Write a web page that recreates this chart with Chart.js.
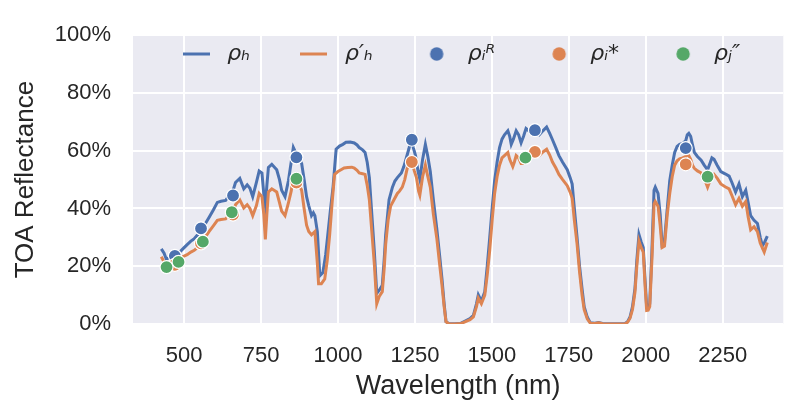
<!DOCTYPE html>
<html>
<head>
<meta charset="utf-8">
<script src="https://cdn.jsdelivr.net/npm/chart.js@4.4.0/dist/chart.umd.min.js"></script>
<style>
html,body{margin:0;padding:0;background:#ffffff;}
#wrap{width:791px;height:403px;position:relative;}
</style>
</head>
<body>
<div id="wrap"><canvas id="c" width="791" height="403"></canvas></div>
<script>
// ---- data (reflectance in %) ----
const wlH = [426,435,442,452,465,475,485,496,510,522,533,544,555,565,581,595,608,620,635,650,660,667,681,694,705,714,723,735,744,753,759,764,769,774,785,801,810,817,828,839,848,855,862,870,882,890,898,905,914,920,925,933,941,951,960,967,975,984,994,1005,1016,1026,1040,1053,1062,1069,1080,1088,1095,1102,1110,1118,1126,1134,1144,1150,1155,1166,1177,1185,1193,1206,1214,1220,1230,1238,1245,1252,1260,1266,1275,1284,1292,1300,1310,1321,1330,1338,1345,1351,1360,1380,1400,1407,1418,1429,1440,1450,1456,1466,1477,1485,1493,1501,1509,1517,1525,1533,1541,1552,1558,1563,1570,1579,1587,1595,1603,1611,1619,1627,1635,1645,1654,1665,1678,1688,1697,1708,1718,1730,1745,1755,1761,1768,1777,1785,1793,1800,1810,1820,1835,1847,1860,1880,1900,1920,1933,1941,1949,1957,1965,1971,1978,1985,1992,1998,2003,2008,2013,2020,2027,2031,2040,2047,2053,2061,2070,2078,2086,2094,2102,2110,2120,2130,2135,2140,2146,2152,2158,2168,2180,2190,2201,2210,2215,2222,2232,2244,2258,2271,2280,2292,2303,2314,2325,2333,2341,2352,2363,2372,2379,2387,2395];
const rhoH = [26.0,24.5,22.5,23.0,23.5,23.8,24.8,26.0,27.5,28.7,29.5,30.9,32.5,34.0,36.9,39.5,42.1,42.5,42.8,45.0,46.5,49.0,50.4,46.8,48.2,47.0,44.1,49.0,53.0,52.3,45.0,41.0,48.0,54.2,55.3,53.4,50.0,46.3,44.1,49.6,56.0,61.1,59.5,58.0,55.6,50.0,44.1,41.0,37.5,38.5,37.5,32.0,16.7,17.8,24.0,30.9,39.0,47.4,60.5,61.6,62.2,62.9,63.0,62.7,62.0,61.1,60.3,59.4,56.0,50.7,38.0,25.4,10.6,11.7,13.4,22.0,30.9,43.0,47.4,49.5,50.7,52.3,54.5,56.7,60.5,64.0,61.0,58.3,53.0,50.1,57.0,62.2,58.0,52.8,43.0,33.1,24.0,15.6,7.0,0.8,0.2,0.1,0.3,0.7,1.3,1.9,3.0,7.0,10.1,7.9,11.2,20.0,29.8,40.0,49.6,56.0,61.1,64.0,65.5,66.9,65.0,62.2,64.0,66.9,65.5,62.7,65.0,67.7,67.0,66.5,66.5,66.0,65.5,66.8,68.2,66.0,63.8,61.0,58.3,56.0,53.4,50.5,48.5,40.0,29.8,20.0,12.3,6.0,2.4,0.4,0.3,0.5,0.2,0.1,0.1,0.1,0.2,0.8,2.4,6.0,12.3,22.0,31.0,28.5,26.5,15.0,6.0,6.0,7.0,25.0,46.3,47.4,45.2,38.0,27.6,28.7,40.0,49.6,55.0,59.4,61.5,62.2,62.5,63.5,65.5,66.0,65.0,62.0,59.4,58.0,56.7,55.0,53.4,56.0,57.5,57.0,55.0,52.8,52.0,51.2,49.0,45.7,48.5,44.1,46.3,42.0,37.5,35.9,34.8,30.0,27.1,28.5,30.4];
const wlHp = [426,435,443,453,465,475,485,496,510,522,533,544,555,565,581,595,608,620,635,650,660,667,681,694,705,714,723,735,744,753,759,764,769,774,785,801,810,817,828,839,848,855,862,870,882,890,898,905,914,920,925,933,937,946,957,965,973,981,989,1000,1010,1020,1032,1045,1053,1062,1069,1080,1088,1095,1102,1110,1118,1126,1134,1144,1150,1155,1163,1171,1182,1193,1200,1209,1217,1225,1233,1241,1248,1255,1262,1266,1275,1284,1292,1300,1310,1321,1330,1338,1345,1351,1360,1380,1400,1407,1418,1429,1440,1450,1456,1466,1477,1485,1493,1501,1509,1517,1525,1533,1541,1552,1558,1568,1573,1579,1587,1595,1600,1605,1611,1619,1627,1635,1645,1654,1665,1678,1688,1697,1708,1718,1730,1745,1755,1761,1768,1777,1785,1793,1800,1810,1820,1835,1847,1860,1880,1900,1920,1933,1941,1949,1957,1965,1971,1978,1985,1992,1998,2003,2008,2013,2020,2027,2031,2040,2047,2053,2061,2070,2078,2086,2094,2102,2110,2120,2130,2137,2146,2152,2158,2168,2180,2190,2201,2210,2222,2232,2244,2258,2271,2280,2292,2303,2314,2325,2333,2341,2352,2363,2372,2385,2395];
const rhoHp = [23.3,21.5,20.0,20.0,20.5,21.0,22.0,23.3,24.0,24.9,25.5,26.5,27.8,29.5,32.0,34.0,35.9,36.2,36.4,38.0,39.0,41.3,43.0,40.2,41.3,40.0,37.5,41.0,45.2,44.1,38.0,29.3,38.0,45.7,46.8,45.7,42.0,39.1,37.5,41.9,46.0,50.7,50.0,49.0,46.3,40.0,34.2,32.0,30.9,31.5,32.0,21.0,13.9,13.9,15.6,22.0,30.9,42.0,51.8,52.8,53.4,54.0,54.2,54.3,54.0,53.2,52.3,52.0,51.8,48.0,43.0,32.0,21.0,7.0,9.5,11.2,19.0,27.6,36.0,40.8,43.0,45.2,46.0,47.4,50.0,53.9,55.5,56.0,53.0,50.7,46.0,44.6,51.0,55.0,51.0,47.4,38.0,29.8,21.0,13.4,6.0,0.8,0.1,0.0,0.2,0.5,1.0,1.5,2.5,6.0,9.0,7.0,10.0,17.0,25.4,36.0,45.2,51.0,55.0,57.5,58.3,59.4,57.0,54.5,56.0,58.3,57.5,55.6,55.6,57.0,58.5,59.0,59.5,59.0,58.5,58.3,59.5,60.5,58.5,56.1,54.0,51.8,50.0,47.9,45.5,43.5,36.0,27.6,18.0,10.1,5.0,1.8,0.3,0.2,0.4,0.1,0.0,0.0,0.0,0.1,0.6,2.0,5.0,11.0,20.0,28.7,26.5,24.9,13.0,4.7,4.8,6.0,22.0,41.5,42.4,40.8,34.0,26.5,27.0,38.0,45.2,51.0,55.0,56.5,57.2,57.5,58.0,58.9,57.0,55.0,53.9,53.0,52.3,50.5,47.4,50.0,51.8,50.5,48.5,47.5,46.8,44.5,41.3,43.5,40.8,42.4,37.0,32.6,33.7,32.0,28.0,24.9,28.2];
const wlBands = [470,555,659,865,1240,1640,2130];
const rhoR = [23.6,33.1,44.5,57.7,63.8,67.1,60.9];
const rhoStar = [20.5,27.9,37.9,49.0,56.1,59.6,55.3];
const wlBandsJ = [443,482,561,655,865,1609,2201];
const rhoJ = [19.7,21.5,28.5,38.7,50.3,57.6,51.0];
const xTicks = [500,750,1000,1250,1500,1750,2000,2250];
const yTicks = [0,20,40,60,80,100];
const legendLabels = ['ρₕ','ρ′ₕ','ρᵢᴿ','ρᵢ*','ρⱼ″'];

// ---- styling ----
const C_BLUE = '#4C72B0', C_ORANGE = '#DD8452', C_GREEN = '#55A868';
const TXT = '#262626', BG = '#EAEAF2';
const pts = (xs, ys) => xs.map((x, i) => ({x: x, y: ys[i]}));

// legend marker images (line sample / dot)
function lineMarker(color) {
  const c = document.createElement('canvas'); c.width = 27; c.height = 4;
  const g = c.getContext('2d'); g.strokeStyle = color; g.lineWidth = 3; g.lineCap = 'butt';
  g.beginPath(); g.moveTo(0, 2); g.lineTo(27, 2); g.stroke(); return c;
}
function dotMarker(color) {
  const c = document.createElement('canvas'); c.width = 16; c.height = 16;
  const g = c.getContext('2d'); g.fillStyle = color;
  g.beginPath(); g.arc(8, 8, 6.7, 0, Math.PI * 2); g.fill(); return c;
}
const markerImgs = [lineMarker(C_BLUE), lineMarker(C_ORANGE), dotMarker(C_BLUE), dotMarker(C_ORANGE), dotMarker(C_GREEN)];

const bgPlugin = {
  id: 'axesBg',
  beforeDraw(chart) {
    const a = chart.chartArea, ctx = chart.ctx;
    ctx.save(); ctx.fillStyle = BG;
    ctx.fillRect(a.left, a.top, a.right - a.left, a.bottom - a.top);
    ctx.restore();
  }
};
const legendInside = {
  id: 'legendInside',
  beforeInit(chart) {
    const lg = chart.legend;
    if (!lg) return;
    const fit = lg.fit;
    lg.fit = function () { fit.call(this); this.height = 0; };
  },
  afterLayout(chart) {
    const lg = chart.legend, a = chart.chartArea;
    if (!lg) return;
    const cx = (a.left + a.right) / 2;
    lg.left = cx - 400; lg.right = cx + 400; lg.width = 800;
    lg.top = -1; lg.bottom = 200; lg.height = 201;
  }
};

const lineDs = (label, data, color, order) => ({
  type: 'scatter', label: label, data: data, showLine: true,
  borderColor: color, backgroundColor: color, borderWidth: 3,
  pointRadius: 0, pointHoverRadius: 0,
  tension: 0, order: order
});
const dotDs = (label, data, color, order) => ({
  type: 'scatter', label: label, data: data, showLine: false,
  backgroundColor: color, borderColor: '#ffffff', borderWidth: 1.2,
  pointRadius: 6.5, pointHoverRadius: 6.5, pointStyle: 'circle', order: order
});

new Chart(document.getElementById('c'), {
  type: 'scatter',
  data: {
    datasets: [
      lineDs(legendLabels[0], pts(wlH, rhoH), C_BLUE, 5),
      lineDs(legendLabels[1], pts(wlHp, rhoHp), C_ORANGE, 4),
      dotDs(legendLabels[2], pts(wlBands, rhoR), C_BLUE, 3),
      dotDs(legendLabels[3], pts(wlBands, rhoStar), C_ORANGE, 2),
      dotDs(legendLabels[4], pts(wlBandsJ, rhoJ), C_GREEN, 1)
    ]
  },
  options: {
    responsive: false, animation: false, devicePixelRatio: 1, events: [],
    layout: {padding: {top: 20, right: 1, bottom: 0, left: 0}},
    plugins: {
      tooltip: {enabled: false},
      legend: {
        display: true, position: 'top', align: 'center',
        labels: {
          usePointStyle: true, pointStyleWidth: 40, boxHeight: 10, padding: 44,
          color: TXT, font: {family: 'DejaVu Sans', size: 22, style: 'italic'},
          sort: (a, b) => a.datasetIndex - b.datasetIndex,
          generateLabels: (chart) => {
            const items = Chart.defaults.plugins.legend.labels.generateLabels(chart);
            items.forEach(it => { it.pointStyle = markerImgs[it.datasetIndex]; });
            return items;
          }
        }
      }
    },
    scales: {
      x: {
        type: 'linear', position: 'bottom', min: 334, max: 2447,
        afterBuildTicks: (s) => { s.ticks = xTicks.map(v => ({value: v})); },
        afterFit: (s) => { s.height = 79; },
        grid: {color: '#ffffff', lineWidth: 2, drawTicks: false},
        border: {display: false},
        ticks: {color: TXT, padding: 19, maxRotation: 0, autoSkip: false,
                font: {family: 'Liberation Sans', size: 22}, callback: (v) => String(v)},
        title: {display: true, text: 'Wavelength (nm)', color: TXT,
                font: {family: 'Liberation Sans', size: 27}, padding: {top: 0, bottom: 0}}
      },
      y: {
        type: 'linear', position: 'left', min: 0, max: 100,
        afterBuildTicks: (s) => { s.ticks = yTicks.map(v => ({value: v})); },
        afterFit: (s) => { s.width = 133; },
        grid: {color: '#ffffff', lineWidth: 2, drawTicks: false},
        border: {display: false},
        ticks: {color: TXT, padding: 22, autoSkip: false,
                font: {family: 'Liberation Sans', size: 22}, callback: (v) => v + '%'},
        title: {display: true, text: 'TOA Reflectance', color: TXT,
                font: {family: 'Liberation Sans', size: 26}, padding: {top: 10, bottom: 0}}
      }
    }
  },
  plugins: [bgPlugin, legendInside]
});
</script>
</body>
</html>
